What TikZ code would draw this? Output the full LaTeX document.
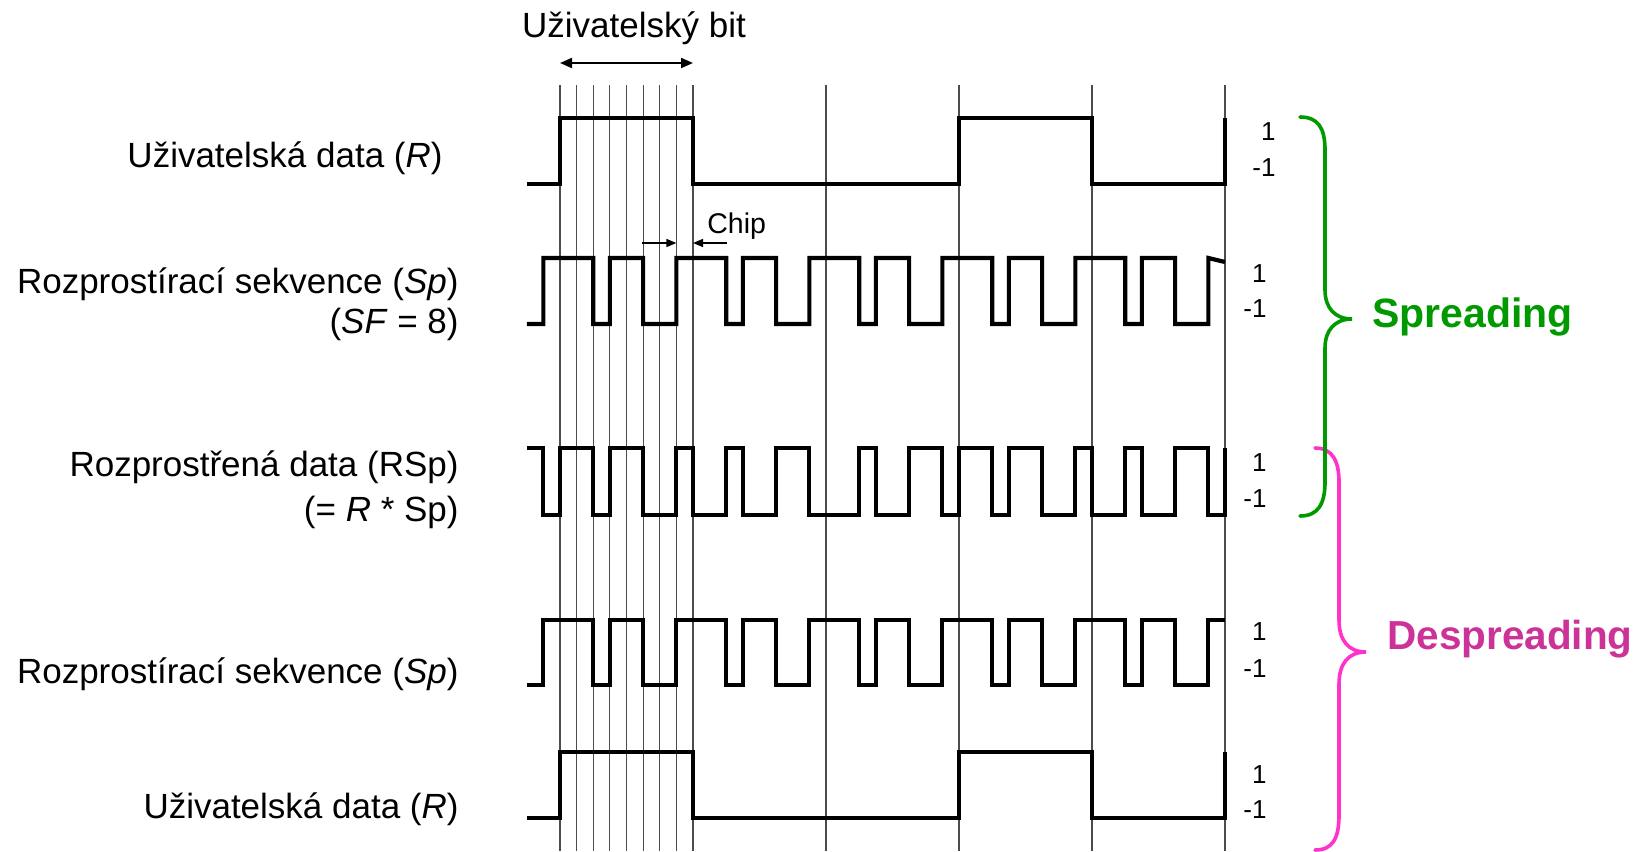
\documentclass[tikz,border=0pt]{standalone}
\usepackage{fontspec}
\setmainfont{Liberation Sans}
\usetikzlibrary{arrows.meta}
\definecolor{spgreen}{RGB}{0,153,0}
\definecolor{brmag}{RGB}{255,51,204}
\definecolor{txmag}{RGB}{204,51,153}
\tikzset{
  lbl/.style={font=\fontsize{17.5pt}{20pt}\selectfont, inner sep=0pt, anchor=base east},
  lvl/.style={font=\fontsize{13pt}{15pt}\selectfont, inner sep=0pt, anchor=base east},
  gridln/.style={line width=0.55pt, black!70},
  wave/.style={line width=2.1pt, line join=miter},
  bracestyle/.style={line width=1.8pt, line cap=round},
}
\begin{document}
\begin{tikzpicture}[x=0.5pt, y=-0.5pt]
\useasboundingbox (0,0) rectangle (1643,851);

% ---------- waveforms and grid (x in chip units) ----------
\begin{scope}[x=8.3125pt, xshift=280pt]
  % grid lines
  \foreach \k in {0,...,8,16,24,32,40}
    \draw[gridln] (\k,85) -- (\k,851);

  % Row 1 : user data R
  \draw[wave] (-2,184) -- (0,184) -- (0,118) -- (8,118) -- (8,184) -- (24,184)
     -- (24,118) -- (32,118) -- (32,184) -- (40,184) -- (40,118);

  % Row 2 : spreading sequence Sp
  \def\hi{258}\def\lo{324}
  \draw[wave] (-2,\lo) -- (-1,\lo)
    \foreach \n in {0,...,4}{ -- ({8*\n-1},\hi) -- ({8*\n+2},\hi) -- ({8*\n+2},\lo)
      -- ({8*\n+3},\lo) -- ({8*\n+3},\hi) -- ({8*\n+5},\hi) -- ({8*\n+5},\lo) -- ({8*\n+7},\lo) }
    -- (39,\hi) -- (40,262);

  % Row 3 : spread data RSp
  \def\hi{448}\def\lo{515}
  \draw[wave] (-2,\hi) -- (-1,\hi) -- (-1,\lo) -- (0,\lo) -- (0,\hi) -- (2,\hi) -- (2,\lo)
    -- (3,\lo) -- (3,\hi) -- (5,\hi) -- (5,\lo) -- (7,\lo) -- (7,\hi) -- (8,\hi) -- (8,\lo)
    -- (10,\lo) -- (10,\hi) -- (11,\hi) -- (11,\lo) -- (13,\lo) -- (13,\hi) -- (15,\hi)
    -- (15,\lo) -- (18,\lo) -- (18,\hi) -- (19,\hi) -- (19,\lo) -- (21,\lo) -- (21,\hi)
    -- (23,\hi) -- (23,\lo) -- (24,\lo) -- (24,\hi) -- (26,\hi) -- (26,\lo) -- (27,\lo)
    -- (27,\hi) -- (29,\hi) -- (29,\lo) -- (31,\lo) -- (31,\hi) -- (32,\hi) -- (32,\lo)
    -- (34,\lo) -- (34,\hi) -- (35,\hi) -- (35,\lo) -- (37,\lo) -- (37,\hi) -- (39,\hi)
    -- (39,\lo) -- (40,\lo) -- (40,\hi);

  % Row 4 : spreading sequence Sp
  \def\hi{620}\def\lo{685}
  \draw[wave] (-2,\lo) -- (-1,\lo)
    \foreach \n in {0,...,4}{ -- ({8*\n-1},\hi) -- ({8*\n+2},\hi) -- ({8*\n+2},\lo)
      -- ({8*\n+3},\lo) -- ({8*\n+3},\hi) -- ({8*\n+5},\hi) -- ({8*\n+5},\lo) -- ({8*\n+7},\lo) }
    -- (39,\hi) -- (40,\hi);

  % Row 5 : user data R
  \draw[wave] (-2,818) -- (0,818) -- (0,752) -- (8,752) -- (8,818) -- (24,818)
     -- (24,752) -- (32,752) -- (32,818) -- (40,818) -- (40,752);

  % user bit arrow
  \coordinate (bitL) at (0,63);
  \coordinate (bitR) at (8,63);
  \draw[line width=1pt, {Triangle[length=6pt,width=5pt]}-{Triangle[length=6pt,width=5pt]}] (bitL) -- (bitR);

  % chip arrows
  \coordinate (chipA1) at (4.95,243);
  \coordinate (chipA2) at (7,243);
  \coordinate (chipB1) at (10.05,243);
  \coordinate (chipB2) at (8,243);
  \draw[line width=0.7pt, -{Triangle[length=5pt,width=4pt]}] (chipA1) -- (chipA2);
  \draw[line width=0.7pt, -{Triangle[length=5pt,width=4pt]}] (chipB1) -- (chipB2);
\end{scope}

% ---------- texts ----------
\node[font=\fontsize{17.5pt}{20pt}\selectfont, inner sep=0pt, anchor=base] (bittext) at (634,37) {Uživatelský bit};
\node[font=\fontsize{14.25pt}{16pt}\selectfont, inner sep=0pt, anchor=base west] (chiptext) at (707,233) {Chip};

\node[lbl] (l1) at (443,167) {Uživatelská data (\textit{R})};
\node[lbl] (l2a) at (459,293) {Rozprostírací sekvence (\textit{Sp})};
\node[lbl] (l2b) at (459,333) {(\textit{SF} = 8)};
\node[lbl] (l3a) at (459,476) {Rozprostřená data (RSp)};
\node[lbl] (l3b) at (459,521) {(= \textit{R} * Sp)};
\node[lbl] (l4) at (459,683) {Rozprostírací sekvence (\textit{Sp})};
\node[lbl] (l5) at (459,818) {Uživatelská data (\textit{R})};

% level labels
\node[lvl] (r1h) at (1276,140) {1};
\node[lvl] (r1l) at (1276,176) {-1};
\node[lvl] (r2h) at (1267,282) {1};
\node[lvl] (r2l) at (1267,317) {-1};
\node[lvl] (r3h) at (1267,471) {1};
\node[lvl] (r3l) at (1267,507) {-1};
\node[lvl] (r4h) at (1267,640) {1};
\node[lvl] (r4l) at (1267,677) {-1};
\node[lvl] (r5h) at (1267,783) {1};
\node[lvl] (r5l) at (1267,818) {-1};

% ---------- braces ----------
\draw[bracestyle, brmag] (1315,448) .. controls (1333,448) and (1339,462) .. (1339,482)
  -- (1339,620) .. controls (1339,640) and (1348,652) .. (1366,652)
  .. controls (1348,652) and (1339,664) .. (1339,684)
  -- (1339,815) .. controls (1339,838) and (1333,850) .. (1315,850);
\draw[bracestyle, spgreen] (1300,117) .. controls (1318,117) and (1325,128) .. (1325,150)
  -- (1325,290) .. controls (1325,308) and (1335,319) .. (1352,319)
  .. controls (1335,319) and (1325,330) .. (1325,348)
  -- (1325,482) .. controls (1325,504) and (1318,516) .. (1300,516);

\node[font=\bfseries\fontsize{20.5pt}{24pt}\selectfont, text=spgreen, inner sep=0pt, anchor=base west] (spread) at (1372,327) {Spreading};
\node[font=\bfseries\fontsize{20.25pt}{24pt}\selectfont, text=txmag, inner sep=0pt, anchor=base west] (despread) at (1387,649) {Despreading};
\end{tikzpicture}
\end{document}
